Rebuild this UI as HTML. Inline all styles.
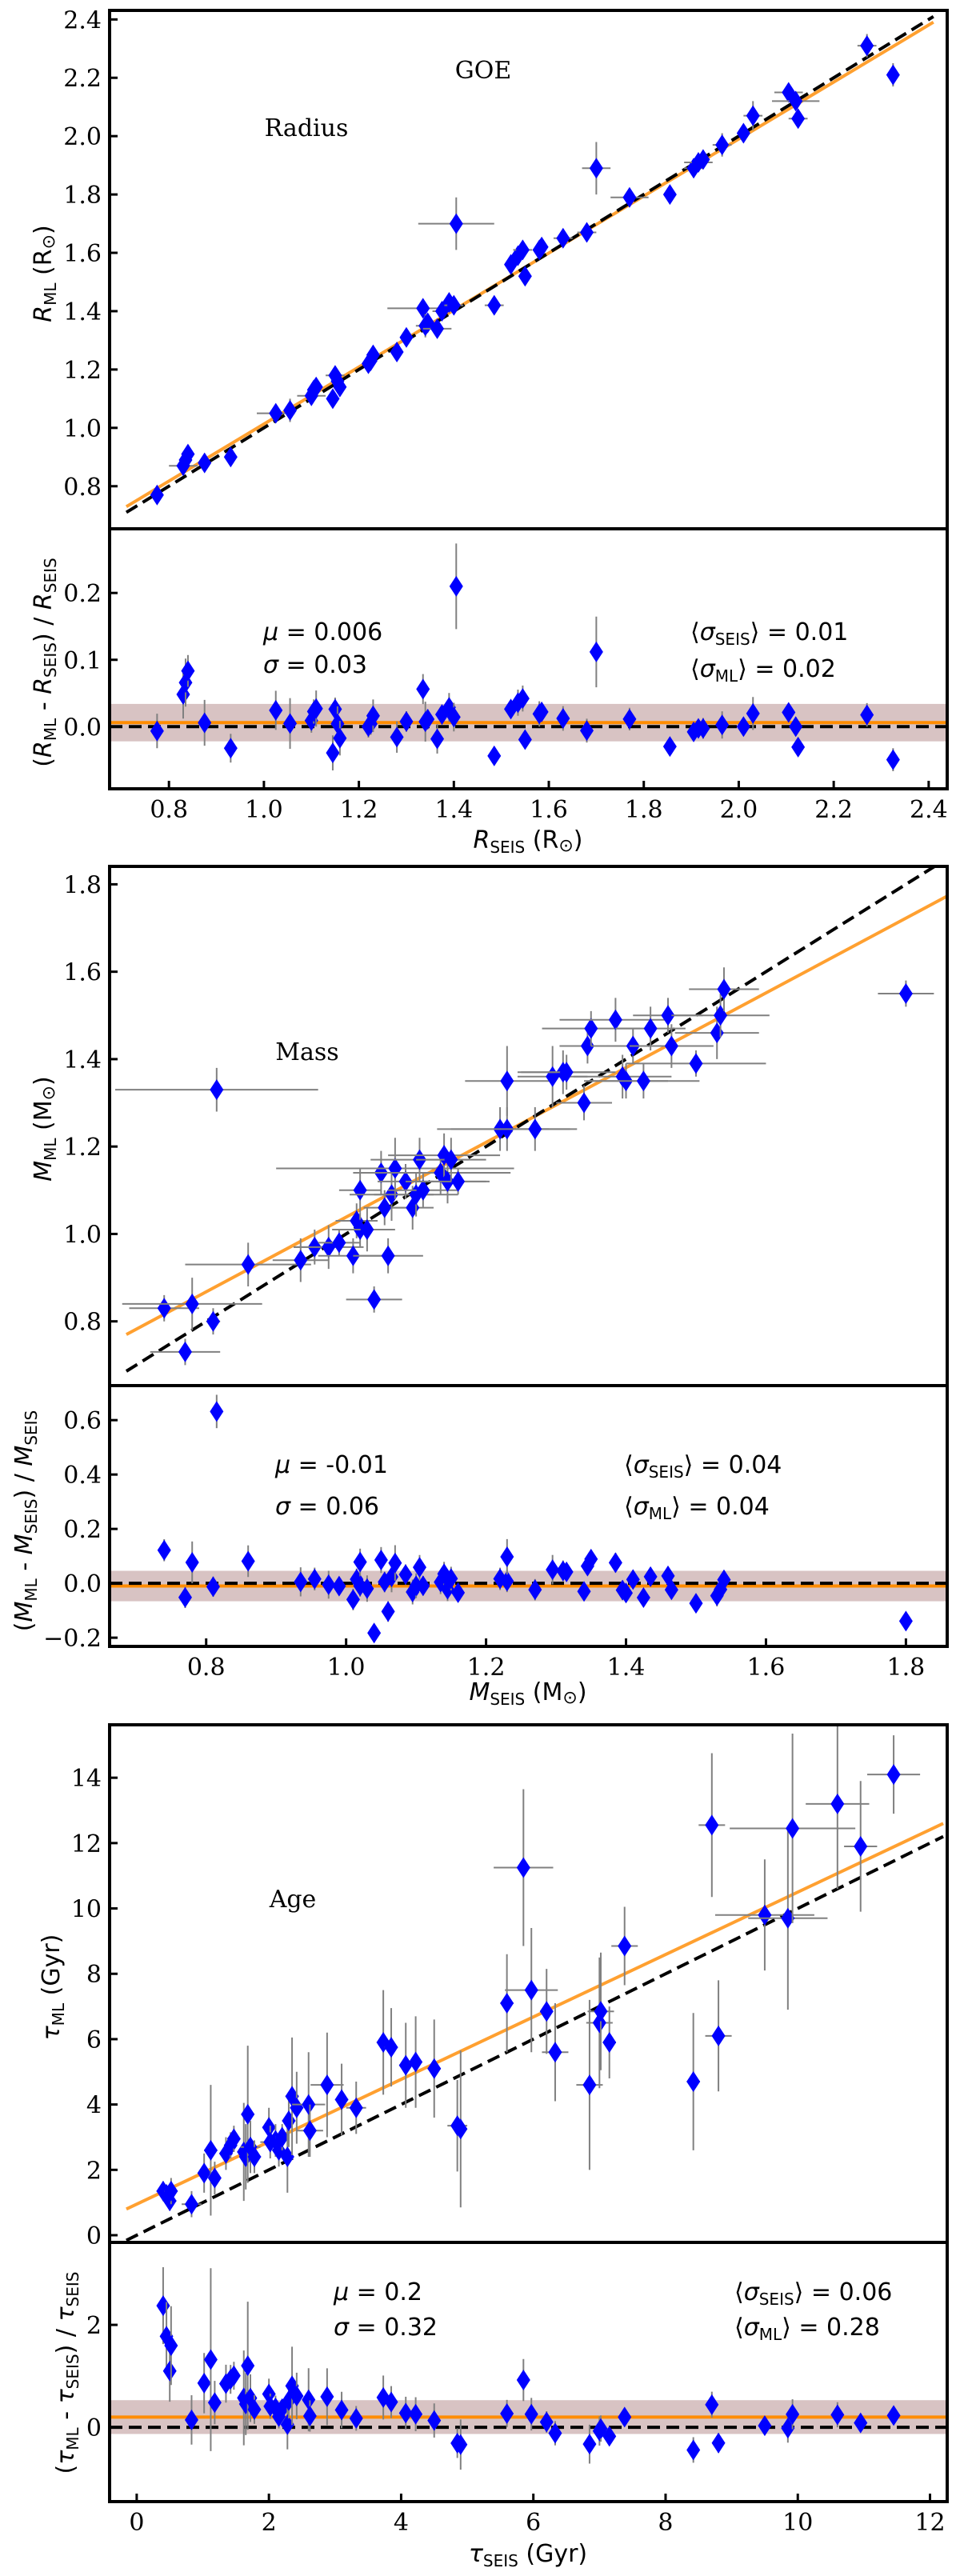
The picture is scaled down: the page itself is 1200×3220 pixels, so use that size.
<!DOCTYPE html>
<html><head><meta charset="utf-8">
<style>
html,body{margin:0;padding:0;background:#fff;}
svg{display:block;}
.tick{font-family:"DejaVu Serif","Liberation Serif",serif;font-size:30px;fill:#000;}
.lab{font-family:"DejaVu Sans","Liberation Sans",sans-serif;font-size:30px;fill:#000;}
.ann{font-family:"DejaVu Serif","Liberation Serif",serif;font-size:30px;fill:#000;}
</style></head>
<body>
<svg id="fig" width="1200" height="3220" viewBox="0 0 1200 3220" xmlns="http://www.w3.org/2000/svg"></svg>
<script>
// ---- Radius data ----
const radX=[0.775,0.83,0.835,0.84,0.875,0.93,1.025,1.055,1.10,1.105,1.11,1.145,1.15,1.155,1.16,1.22,1.225,1.23,1.28,1.30,1.335,1.34,1.345,1.365,1.375,1.39,1.40,1.405,1.485,1.52,1.535,1.545,1.55,1.58,1.585,1.63,1.68,1.70,1.77,1.855,1.905,1.915,1.925,1.965,2.01,2.03,2.105,2.12,2.125,2.27,2.325];
const radY=[0.77,0.87,0.89,0.91,0.88,0.90,1.05,1.06,1.11,1.13,1.14,1.10,1.18,1.16,1.14,1.22,1.23,1.25,1.26,1.31,1.41,1.35,1.36,1.34,1.40,1.43,1.42,1.70,1.42,1.56,1.59,1.61,1.52,1.61,1.62,1.65,1.67,1.89,1.79,1.80,1.89,1.91,1.92,1.97,2.01,2.07,2.15,2.12,2.06,2.31,2.21];
const radXerr=[0.01,0.03,0.01,0.01,0.01,0.01,0.04,0.01,0.03,0.01,0.01,0.01,0.02,0.01,0.01,0.01,0.01,0.01,0.01,0.01,0.075,0.02,0.01,0.03,0.02,0.01,0.02,0.08,0.02,0.01,0.01,0.02,0.01,0.01,0.01,0.02,0.02,0.03,0.04,0.01,0.02,0.03,0.01,0.02,0.01,0.02,0.03,0.05,0.02,0.02,0.01];
const radYerr=[0.02,0.03,0.03,0.02,0.03,0.02,0.03,0.04,0.02,0.02,0.03,0.03,0.02,0.03,0.03,0.02,0.02,0.03,0.03,0.02,0.03,0.04,0.02,0.03,0.02,0.03,0.03,0.09,0.02,0.02,0.03,0.03,0.02,0.03,0.02,0.03,0.03,0.09,0.03,0.02,0.02,0.02,0.03,0.04,0.02,0.05,0.02,0.03,0.02,0.04,0.04];
const radFit=[0.73,0.977];
const radStats=[0.006,0.028];
// ---- Mass data ----
const massX=[0.74,0.77,0.78,0.81,0.815,0.86,0.935,0.955,0.975,0.99,1.01,1.015,1.02,1.02,1.03,1.04,1.05,1.055,1.06,1.065,1.07,1.085,1.095,1.10,1.105,1.11,1.135,1.14,1.145,1.15,1.16,1.22,1.23,1.23,1.27,1.295,1.31,1.315,1.34,1.345,1.35,1.385,1.395,1.40,1.41,1.425,1.435,1.46,1.465,1.50,1.53,1.535,1.54,1.80];
const massY=[0.83,0.73,0.84,0.80,1.33,0.93,0.94,0.97,0.97,0.98,0.95,1.03,1.10,1.01,1.01,0.85,1.14,1.06,0.95,1.09,1.15,1.12,1.06,1.09,1.17,1.10,1.14,1.18,1.12,1.17,1.12,1.24,1.24,1.35,1.24,1.36,1.37,1.37,1.30,1.43,1.47,1.49,1.36,1.35,1.43,1.35,1.47,1.50,1.43,1.39,1.46,1.50,1.56,1.55];
const massXerr=[0.05,0.05,0.1,0.01,0.145,0.09,0.04,0.03,0.05,0.03,0.05,0.03,0.03,0.04,0.04,0.04,0.04,0.03,0.05,0.06,0.17,0.04,0.03,0.06,0.07,0.05,0.1,0.08,0.06,0.05,0.04,0.07,0.1,0.06,0.05,0.05,0.06,0.07,0.04,0.04,0.07,0.08,0.07,0.06,0.06,0.08,0.05,0.05,0.06,0.1,0.06,0.07,0.05,0.04];
const massYerr=[0.03,0.03,0.06,0.03,0.05,0.05,0.05,0.04,0.05,0.03,0.04,0.04,0.05,0.04,0.05,0.03,0.05,0.04,0.04,0.06,0.07,0.04,0.05,0.05,0.05,0.04,0.05,0.05,0.05,0.05,0.03,0.05,0.05,0.08,0.05,0.07,0.05,0.04,0.04,0.04,0.04,0.05,0.05,0.04,0.04,0.04,0.05,0.04,0.05,0.03,0.06,0.05,0.05,0.03];
const massFit=[0.77,0.855];
const massStats=[-0.01,0.056];
// ---- Age data ----
const ageX=[0.4,0.45,0.5,0.52,0.83,1.02,1.12,1.18,1.35,1.42,1.47,1.62,1.65,1.68,1.72,1.78,2.0,2.02,2.1,2.15,2.2,2.28,2.3,2.35,2.42,2.6,2.62,2.88,3.1,3.32,3.73,3.85,4.07,4.22,4.5,4.85,4.9,5.6,5.85,5.97,6.2,6.33,6.85,7.0,7.02,7.15,7.38,8.42,8.7,8.8,9.5,9.85,9.92,10.6,10.95,11.45];
const ageY=[1.35,1.25,1.05,1.35,0.95,1.9,2.6,1.75,2.5,2.75,2.95,2.55,2.4,3.7,2.7,2.4,3.3,2.85,2.9,2.6,3.0,2.4,3.5,4.25,3.9,4.0,3.2,4.6,4.15,3.9,5.9,5.75,5.2,5.3,5.1,3.35,3.25,7.1,11.25,7.5,6.85,5.6,4.6,6.5,6.85,5.9,8.85,4.7,12.55,6.1,9.8,9.7,12.45,13.2,11.9,14.1];
const ageXerr=[0.1,0.1,0.1,0.1,0.15,0.05,0.1,0.05,0.1,0.1,0.1,0.1,0.1,0.1,0.15,0.1,0.1,0.15,0.1,0.1,0.1,0.1,0.1,0.1,0.1,0.25,0.2,0.25,0.1,0.15,0.1,0.1,0.1,0.1,0.1,0.15,0.1,0.1,0.45,0.4,0.1,0.2,0.2,0.2,0.2,0.1,0.2,0.1,0.2,0.2,0.75,0.6,0.95,0.48,0.25,0.4];
const ageYerr=[0.3,0.3,0.3,0.4,0.4,0.6,2.0,0.5,0.5,0.4,0.4,1.5,1.0,2.1,0.8,0.5,0.6,0.5,0.5,0.5,0.4,1.1,0.8,1.8,1.1,1.6,0.8,1.6,1.1,0.8,1.6,1.2,1.3,1.4,1.5,1.4,2.4,1.5,2.4,1.9,1.3,1.5,2.6,2.0,1.8,1.1,1.2,2.1,2.2,1.7,1.7,2.8,2.9,2.6,2.0,1.2];
const ageFit=[0.8,0.955];
const ageStats=[0.2,0.33];

// ---- ticks ----
const radXTicks=[0.8,1.0,1.2,1.4,1.6,1.8,2.0,2.2,2.4];
const radYTicks=[0.8,1.0,1.2,1.4,1.6,1.8,2.0,2.2,2.4];
const radRTicks=[0.0,0.1,0.2];
const massXTicks=[0.8,1.0,1.2,1.4,1.6,1.8];
const massYTicks=[0.8,1.0,1.2,1.4,1.6,1.8];
const massRTicks=[-0.2,0.0,0.2,0.4,0.6];
const ageXTicks=[0,2,4,6,8,10,12];
const ageYTicks=[0,2,4,6,8,10,12,14];
const ageRTicks=[0,2];

const NS="http://www.w3.org/2000/svg";
const svg=document.getElementById('fig');
function el(tag,attrs,parent,text){
  const e=document.createElementNS(NS,tag);
  for(const k in attrs)e.setAttribute(k,attrs[k]);
  if(text!==undefined)e.textContent=text;
  (parent||svg).appendChild(e);return e;
}
function fmt(v,d){const s=v.toFixed(d);return s.startsWith('-')?'\u2212'+s.slice(1):s;}

function panel(cfg){
  const g=el('g',{});
  
  
  const L=137,R=1184;
  const sx=v=>L+(v-cfg.xr[0])/(cfg.xr[1]-cfg.xr[0])*(R-L);
  const sy=v=>cfg.mid-(v-cfg.yr[0])/(cfg.yr[1]-cfg.yr[0])*(cfg.mid-cfg.top);
  const sr=v=>cfg.bot-(v-cfg.rr[0])/(cfg.rr[1]-cfg.rr[0])*(cfg.bot-cfg.mid);
  const clipId='c'+cfg.name, clipR='r'+cfg.name;
  const defs=el('defs',{},g);
  const c1=el('clipPath',{id:clipId},defs);el('rect',{x:L,y:cfg.top,width:R-L,height:cfg.mid-cfg.top},c1);
  const c2=el('clipPath',{id:clipR},defs);el('rect',{x:L,y:cfg.mid,width:R-L,height:cfg.bot-cfg.mid},c2);
  const gm=el('g',{'clip-path':'url(#'+clipId+')'},g);
  const gr=el('g',{'clip-path':'url(#'+clipR+')'},g);
  const band=el('rect',{x:L,y:sr(cfg.stats[0]+cfg.stats[1]),width:R-L,height:sr(cfg.stats[0]-cfg.stats[1])-sr(cfg.stats[0]+cfg.stats[1]),fill:'#d8c3c3'},gr);
  
  
  const x0=cfg.xr[0]+0.02*(cfg.xr[1]-cfg.xr[0]), x1=cfg.xEnd;
  const fit=el('line',{x1:sx(x0),y1:sy(cfg.fit[0]),x2:sx(x1),y2:sy(cfg.fit[0]+cfg.fit[1]*(x1-x0)),stroke:'#ffa030','stroke-width':4},gm);
  
  
  const one=el('line',{x1:sx(x0),y1:sy(x0),x2:sx(x1),y2:sy(x1),stroke:'#000','stroke-width':4,'stroke-dasharray':'16,8'},gm);
  
  
  const rmu=el('line',{x1:L,y1:sr(cfg.stats[0]),x2:R,y2:sr(cfg.stats[0]),stroke:'#ff8c00','stroke-width':4},gr);
  
  
  const rz=el('line',{x1:L,y1:sr(0),x2:R,y2:sr(0),stroke:'#000','stroke-width':4,'stroke-dasharray':'16,8'},gr);
  
  
  const X=cfg.x,Y=cfg.y,XE=cfg.xe,YE=cfg.ye;
  function diamond(parent,px,py){
    return el('path',{d:`M${px},${py-13}L${px+8.5},${py}L${px},${py+13}L${px-8.5},${py}Z`,fill:'#0000ff'},parent);
  }
  for(let i=0;i<X.length;i++){
    const px=sx(X[i]),py=sy(Y[i]);
    const eb=el('path',{d:`M${sx(X[i]-XE[i])},${py}H${sx(X[i]+XE[i])}M${px},${sy(Y[i]-YE[i])}V${sy(Y[i]+YE[i])}`,stroke:'#808080','stroke-width':2,fill:'none'},gm);
    
    
    const d=diamond(gm,px,py);
    
    
    const r=Y[i]/X[i]-1, re=YE[i]/X[i];
    const pr=sr(r);
    const eb2=el('path',{d:`M${px},${sr(r-re)}V${sr(r+re)}`,stroke:'#808080','stroke-width':2,fill:'none'},gr);
    
    
    const d2=diamond(gr,px,pr);
    
    
  }
  const f1=el('rect',{x:L,y:cfg.top,width:R-L,height:cfg.mid-cfg.top,fill:'none',stroke:'#000','stroke-width':4},g);
  
  
  const f2=el('rect',{x:L,y:cfg.mid,width:R-L,height:cfg.bot-cfg.mid,fill:'none',stroke:'#000','stroke-width':4},g);
  
  
  cfg.xt.forEach(v=>{
    const x=sx(v);
    el('line',{x1:x,y1:cfg.bot,x2:x,y2:cfg.bot-10,stroke:'#000','stroke-width':3},g);
    const t=el('text',{x:x,y:cfg.bot+36,'text-anchor':'middle',class:'tick'},g,fmt(v,cfg.xd));
    
    
  });
  cfg.yt.forEach(v=>{
    const y=sy(v);
    el('line',{x1:L,y1:y,x2:L+10,y2:y,stroke:'#000','stroke-width':3},g);
    const t=el('text',{x:L-10,y:y+11,'text-anchor':'end',class:'tick'},g,fmt(v,cfg.yd));
    
    
  });
  cfg.rt.forEach(v=>{
    const y=sr(v);
    el('line',{x1:L,y1:y,x2:L+10,y2:y,stroke:'#000','stroke-width':3},g);
    const t=el('text',{x:L-10,y:y+11,'text-anchor':'end',class:'tick'},g,fmt(v,cfg.rd));
    
    
  });
  return g;
}

panel({name:'radius',xr:[0.675,2.439],yr:[0.654,2.431],rr:[-0.093,0.296],top:13,mid:661,bot:986,x:radX,y:radY,xe:radXerr,ye:radYerr,fit:radFit,stats:radStats,xEnd:2.41,xt:radXTicks,yt:radYTicks,rt:radRTicks,xd:1,yd:1,rd:1});
panel({name:'mass',xr:[0.662,1.859],yr:[0.653,1.841],rr:[-0.232,0.727],top:1083,mid:1732,bot:2058,x:massX,y:massY,xe:massXerr,ye:massYerr,fit:massFit,stats:massStats,xEnd:1.859,xt:massXTicks,yt:massYTicks,rt:massRTicks,xd:1,yd:1,rd:1});
panel({name:'age',xr:[-0.41,12.26],yr:[-0.22,15.62],rr:[-1.45,3.61],top:2156,mid:2803,bot:3127,x:ageX,y:ageY,xe:ageXerr,ye:ageYerr,fit:ageFit,stats:ageStats,xEnd:12.2,xt:ageXTicks,yt:ageYTicks,rt:ageRTicks,xd:0,yd:0,rd:0});
</script>
<svg style="position:absolute;left:0;top:0" width="1200" height="3220" xmlns="http://www.w3.org/2000/svg">
<g font-family="DejaVu Serif, Liberation Serif, serif" font-size="30">
<text x="604" y="98" text-anchor="middle">GOE</text>
<text x="383" y="170" text-anchor="middle">Radius</text>
<text x="384" y="1325" text-anchor="middle">Mass</text>
<text x="366" y="2384" text-anchor="middle">Age</text>
</g>
<g font-family="DejaVu Sans, Liberation Sans, sans-serif" font-size="30">
<text x="329" y="800"><tspan font-style="italic">μ</tspan> = 0.006</text>
<text x="329" y="841"><tspan font-style="italic">σ</tspan> = 0.03</text>
<text x="863" y="800">⟨<tspan font-style="italic">σ</tspan><tspan font-size="20" dy="6">SEIS</tspan><tspan dy="-6">⟩ = 0.01</tspan></text>
<text x="863" y="846">⟨<tspan font-style="italic">σ</tspan><tspan font-size="20" dy="6">ML</tspan><tspan dy="-6">⟩ = 0.02</tspan></text>
<text x="344" y="1841"><tspan font-style="italic">μ</tspan> = -0.01</text>
<text x="344" y="1893"><tspan font-style="italic">σ</tspan> = 0.06</text>
<text x="780" y="1841">⟨<tspan font-style="italic">σ</tspan><tspan font-size="20" dy="6">SEIS</tspan><tspan dy="-6">⟩ = 0.04</tspan></text>
<text x="780" y="1893">⟨<tspan font-style="italic">σ</tspan><tspan font-size="20" dy="6">ML</tspan><tspan dy="-6">⟩ = 0.04</tspan></text>
<text x="417" y="2875"><tspan font-style="italic">μ</tspan> = 0.2</text>
<text x="417" y="2919"><tspan font-style="italic">σ</tspan> = 0.32</text>
<text x="918" y="2875">⟨<tspan font-style="italic">σ</tspan><tspan font-size="20" dy="6">SEIS</tspan><tspan dy="-6">⟩ = 0.06</tspan></text>
<text x="918" y="2919">⟨<tspan font-style="italic">σ</tspan><tspan font-size="20" dy="6">ML</tspan><tspan dy="-6">⟩ = 0.28</tspan></text>
<text x="660" y="1060" text-anchor="middle"><tspan font-style="italic">R</tspan><tspan font-size="20" dy="6">SEIS</tspan><tspan dy="-6"> (R</tspan><tspan font-size="22" dy="4">⊙</tspan><tspan dy="-4">)</tspan></text>
<text x="660" y="2125" text-anchor="middle"><tspan font-style="italic">M</tspan><tspan font-size="20" dy="6">SEIS</tspan><tspan dy="-6"> (M</tspan><tspan font-size="22" dy="4">⊙</tspan><tspan dy="-4">)</tspan></text>
<text x="660" y="3202" text-anchor="middle"><tspan font-style="italic">τ</tspan><tspan font-size="20" dy="6">SEIS</tspan><tspan dy="-6"> (Gyr)</tspan></text>
<text transform="translate(64,342) rotate(-90)" text-anchor="middle"><tspan font-style="italic">R</tspan><tspan font-size="20" dy="6">ML</tspan><tspan dy="-6"> (R</tspan><tspan font-size="22" dy="4">⊙</tspan><tspan dy="-4">)</tspan></text>
<text transform="translate(64,828) rotate(-90)" text-anchor="middle">(<tspan font-style="italic">R</tspan><tspan font-size="20" dy="6">ML</tspan><tspan dy="-6"> - </tspan><tspan font-style="italic">R</tspan><tspan font-size="20" dy="6">SEIS</tspan><tspan dy="-6">) / </tspan><tspan font-style="italic">R</tspan><tspan font-size="20" dy="6">SEIS</tspan></text>
<text transform="translate(64,1411) rotate(-90)" text-anchor="middle"><tspan font-style="italic">M</tspan><tspan font-size="20" dy="6">ML</tspan><tspan dy="-6"> (M</tspan><tspan font-size="22" dy="4">⊙</tspan><tspan dy="-4">)</tspan></text>
<text transform="translate(40,1901) rotate(-90)" text-anchor="middle">(<tspan font-style="italic">M</tspan><tspan font-size="20" dy="6">ML</tspan><tspan dy="-6"> - </tspan><tspan font-style="italic">M</tspan><tspan font-size="20" dy="6">SEIS</tspan><tspan dy="-6">) / </tspan><tspan font-style="italic">M</tspan><tspan font-size="20" dy="6">SEIS</tspan></text>
<text transform="translate(74,2484) rotate(-90)" text-anchor="middle"><tspan font-style="italic">τ</tspan><tspan font-size="20" dy="6">ML</tspan><tspan dy="-6"> (Gyr)</tspan></text>
<text transform="translate(92,2966) rotate(-90)" text-anchor="middle">(<tspan font-style="italic">τ</tspan><tspan font-size="20" dy="6">ML</tspan><tspan dy="-6"> - </tspan><tspan font-style="italic">τ</tspan><tspan font-size="20" dy="6">SEIS</tspan><tspan dy="-6">) / </tspan><tspan font-style="italic">τ</tspan><tspan font-size="20" dy="6">SEIS</tspan></text>
</g>
</svg>
</body></html>
